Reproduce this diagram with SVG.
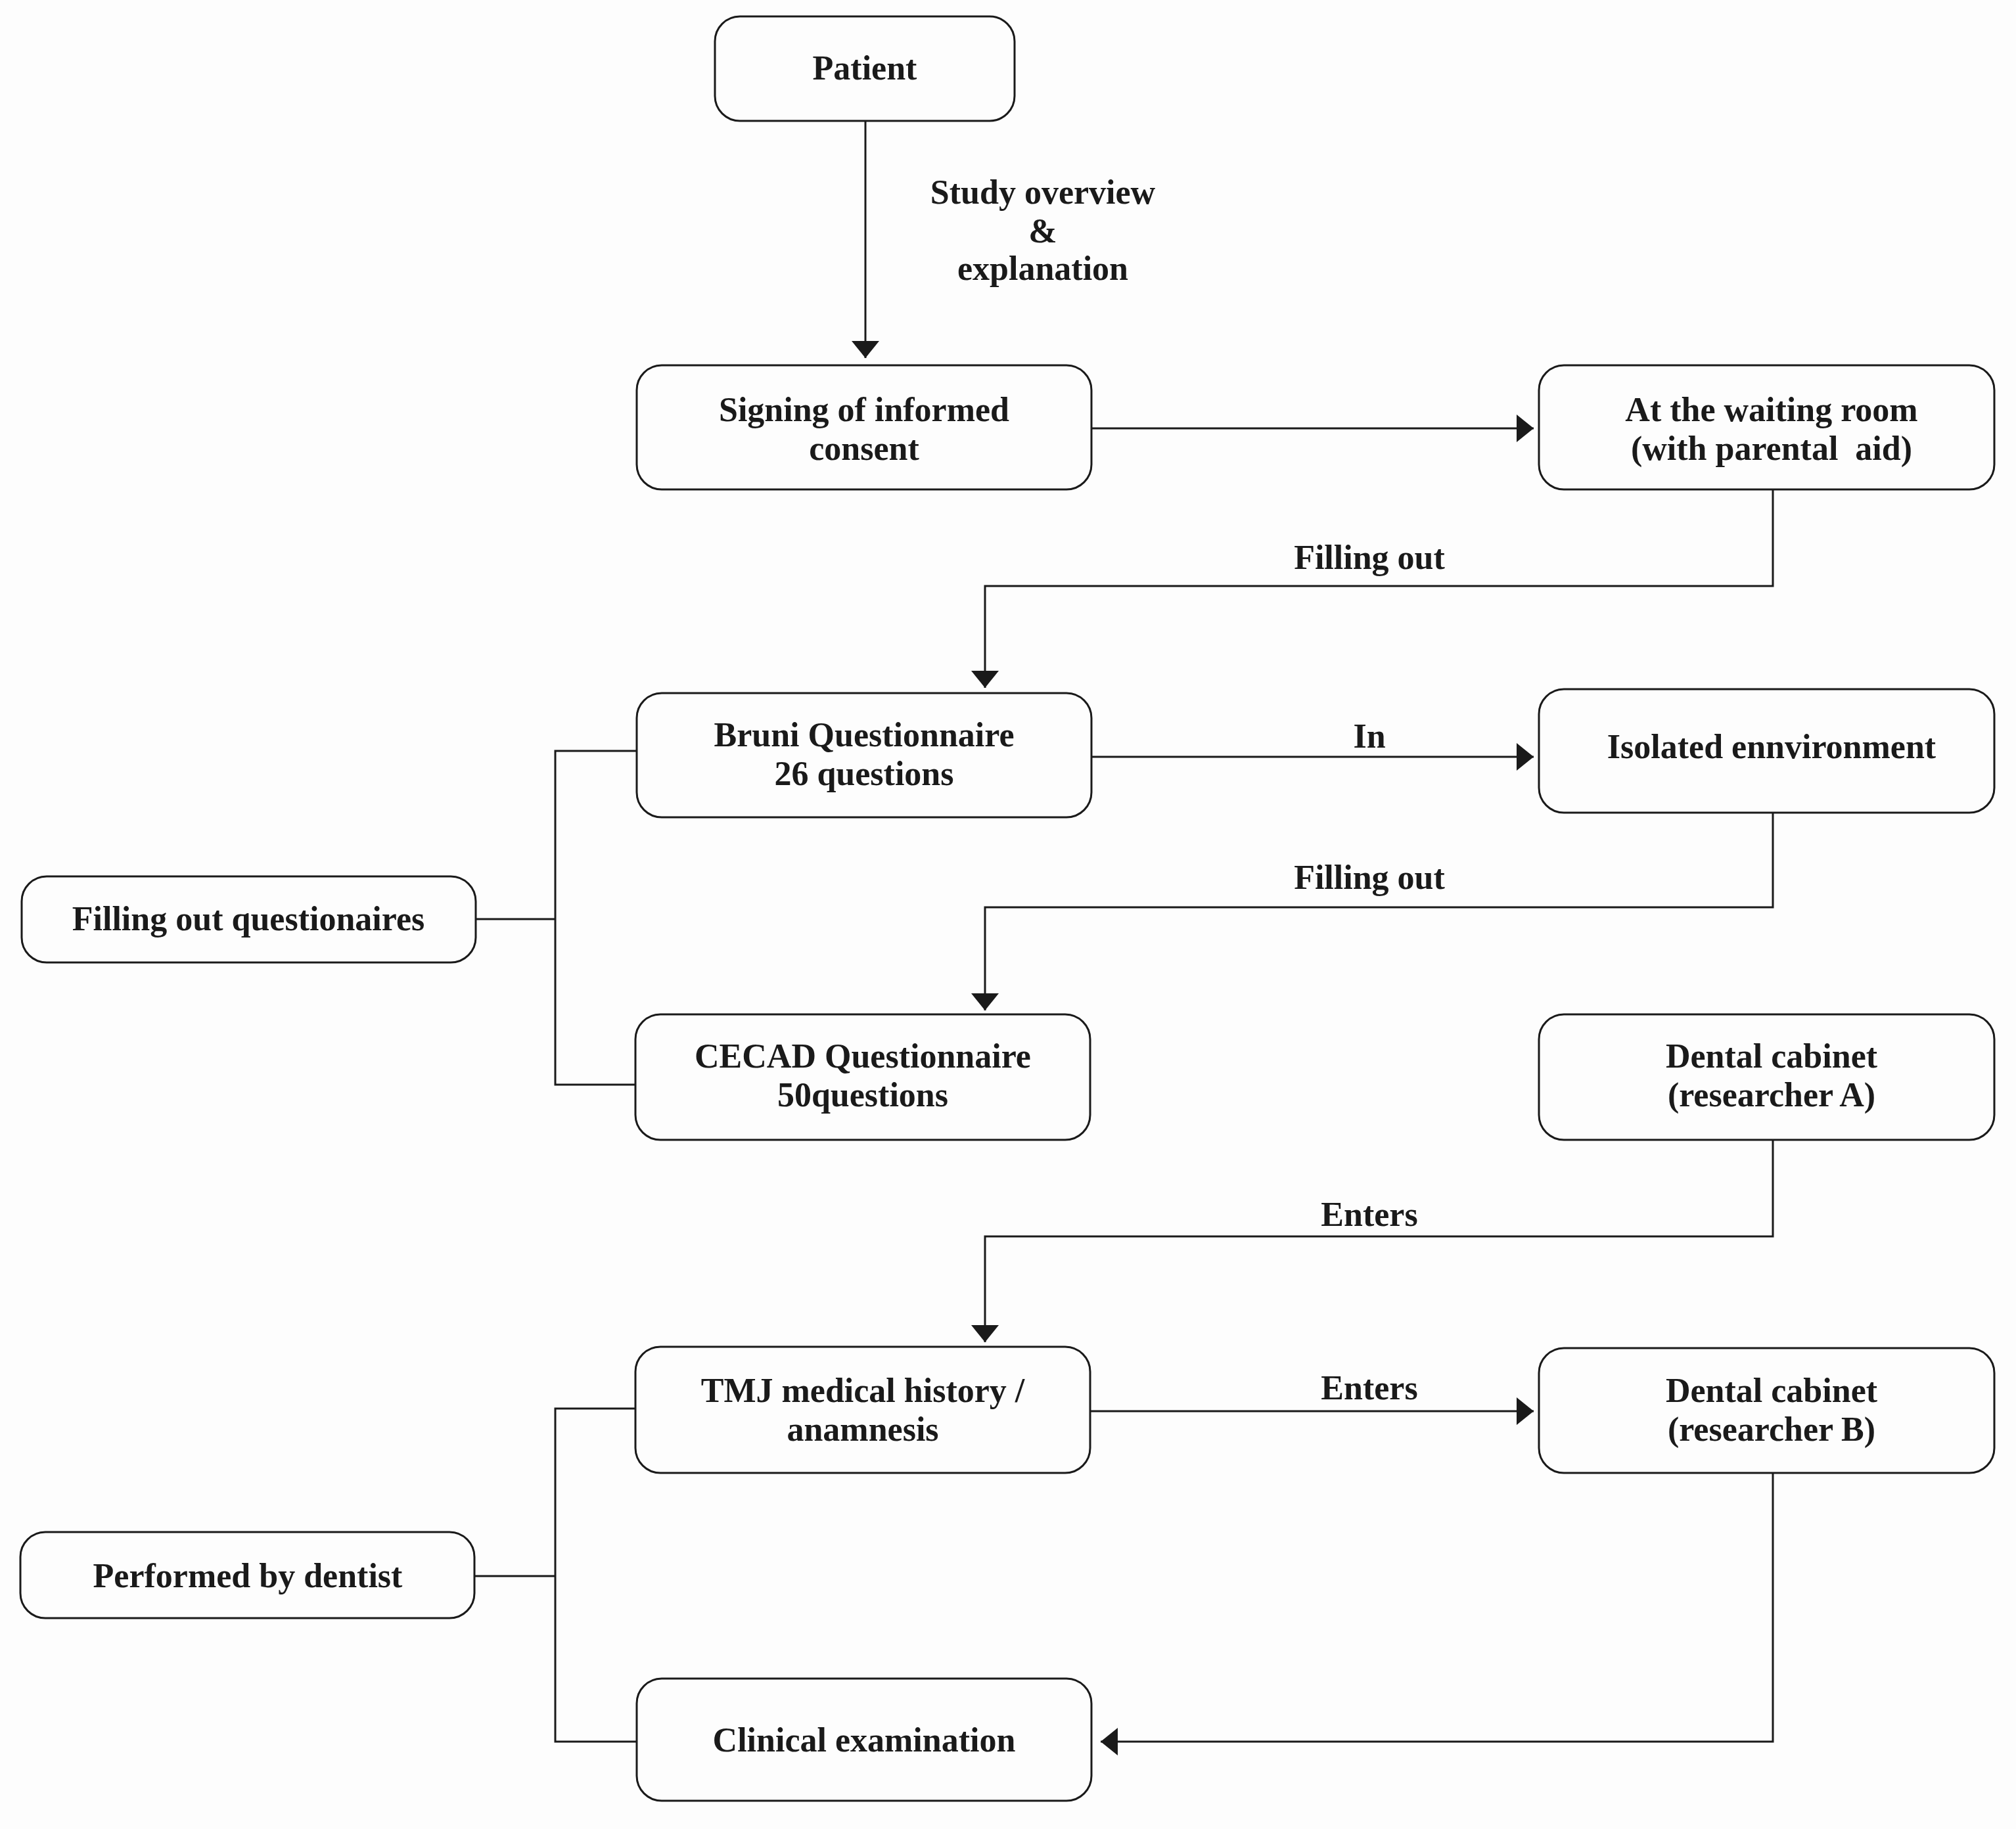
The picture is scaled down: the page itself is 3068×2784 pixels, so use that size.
<svg xmlns="http://www.w3.org/2000/svg" width="3068" height="2784" viewBox="0 0 3068 2784">
<style>
.box{fill:#fdfdfd;stroke:#1a1a1a;stroke-width:3}
.t{font-family:"Liberation Serif","Times New Roman",serif;font-weight:bold;font-size:52px;fill:#1a1a1a;text-anchor:middle}
.c{fill:none;stroke:#1a1a1a;stroke-width:3}
</style>
<defs>
<marker id="ah" markerUnits="userSpaceOnUse" markerWidth="26" markerHeight="42" refX="26" refY="21" orient="auto">
<path d="M0,0 L26,21 L0,42 z" fill="#1a1a1a"/>
</marker>
</defs>
<rect x="0" y="0" width="3068" height="2784" fill="#fdfdfd"/>
<g id="connectors">
<path class="c" d="M1317,184 V545" marker-end="url(#ah)"/>
<path class="c" d="M1661,652 H2334" marker-end="url(#ah)"/>
<path class="c" d="M2698,745 V892 H1499 V1047" marker-end="url(#ah)"/>
<path class="c" d="M1661,1152 H2334" marker-end="url(#ah)"/>
<path class="c" d="M2698,1237 V1381 H1499 V1538" marker-end="url(#ah)"/>
<path class="c" d="M2698,1735 V1882 H1499 V2043" marker-end="url(#ah)"/>
<path class="c" d="M1659,2148 H2334" marker-end="url(#ah)"/>
<path class="c" d="M2698,2242 V2651 H1675" marker-end="url(#ah)"/>
<path class="c" d="M724,1399 H845 M969,1143 H845 V1651 H967"/>
<path class="c" d="M722,2399 H845 M967,2144 H845 V2651 H969"/>
<text class="t" x="1587" y="310">Study overview</text>
<text class="t" x="1587" y="369">&amp;</text>
<text class="t" x="1587" y="426">explanation</text>
<text class="t" x="2084" y="866">Filling out</text>
<text class="t" x="2084" y="1138">In</text>
<text class="t" x="2084" y="1353">Filling out</text>
<text class="t" x="2084" y="1866">Enters</text>
<text class="t" x="2084" y="2130">Enters</text>
</g>
<g id="patient">
<rect class="box" x="1088" y="25" width="456" height="159" rx="38"/>
<text class="t" x="1316" y="121">Patient</text>
</g>
<g id="consent">
<rect class="box" x="969" y="556" width="692" height="189" rx="38"/>
<text class="t" x="1315" y="641">Signing of informed</text>
<text class="t" x="1315" y="700">consent</text>
</g>
<g id="waiting">
<rect class="box" x="2342" y="556" width="693" height="189" rx="38"/>
<text class="t" x="2696" y="641">At the waiting room</text>
<text class="t" x="2696" y="700" xml:space="preserve" style="white-space:pre">(with parental  aid)</text>
</g>
<g id="bruni">
<rect class="box" x="969" y="1055" width="692" height="189" rx="38"/>
<text class="t" x="1315" y="1136">Bruni Questionnaire</text>
<text class="t" x="1315" y="1195">26 questions</text>
</g>
<g id="isolated">
<rect class="box" x="2342" y="1049" width="693" height="188" rx="38"/>
<text class="t" x="2696" y="1154">Isolated ennvironment</text>
</g>
<g id="questionaires">
<rect class="box" x="33" y="1334" width="691" height="131" rx="38"/>
<text class="t" x="378" y="1416">Filling out questionaires</text>
</g>
<g id="cecad">
<rect class="box" x="967" y="1544" width="692" height="191" rx="38"/>
<text class="t" x="1313" y="1625">CECAD Questionnaire</text>
<text class="t" x="1313" y="1684">50questions</text>
</g>
<g id="cabinetA">
<rect class="box" x="2342" y="1544" width="693" height="191" rx="38"/>
<text class="t" x="2696" y="1625">Dental cabinet</text>
<text class="t" x="2696" y="1684">(researcher A)</text>
</g>
<g id="tmj">
<rect class="box" x="967" y="2050" width="692" height="192" rx="38"/>
<text class="t" x="1313" y="2134">TMJ medical history /</text>
<text class="t" x="1313" y="2193">anamnesis</text>
</g>
<g id="cabinetB">
<rect class="box" x="2342" y="2052" width="693" height="190" rx="38"/>
<text class="t" x="2696" y="2134">Dental cabinet</text>
<text class="t" x="2696" y="2193">(researcher B)</text>
</g>
<g id="dentist">
<rect class="box" x="31" y="2332" width="691" height="131" rx="38"/>
<text class="t" x="377" y="2416">Performed by dentist</text>
</g>
<g id="clinical">
<rect class="box" x="969" y="2555" width="692" height="186" rx="38"/>
<text class="t" x="1315" y="2666">Clinical examination</text>
</g>
</svg>
